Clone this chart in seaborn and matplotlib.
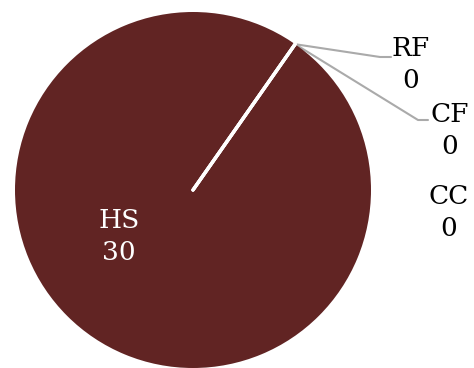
import numpy as np
import matplotlib
matplotlib.use('Agg')
import matplotlib.pyplot as plt
import seaborn as sns

# datos
categorias = ['HS', 'RF', 'CF', 'CC']
valores = [30, 0, 0, 0]
colores = ['#612423', '#7a2e2c', '#8a3a36', '#9a4640']

sns.set_theme(style='white')
plt.rcParams['font.family'] = ['DejaVu Serif', 'DejaVu Sans']

W, H = 474, 368
cx, cy, R = 193, 190, 178          # centro y radio en pixeles


def px(x, y):
    # pixel -> coordenadas de datos (radio = 1)
    return (x - cx) / R, (cy - y) / R


fig = plt.figure(figsize=(W / 100, H / 100), dpi=100)
ax = fig.add_axes([0, 0, 1, 1])

start = 55
wedges, _ = ax.pie(valores, colors=colores, startangle=start, counterclock=True,
                   wedgeprops=dict(edgecolor='white', linewidth=0))
# las porciones vacias dejan la linea blanca del borde
for w, v in zip(wedges, valores):
    if v == 0:
        w.set_linewidth(2.4)
        w.set_capstyle('round')
        w.set_joinstyle('round')
        w.set_zorder(3)

ax.set_xlim(-cx / R, (W - cx) / R)
ax.set_ylim(-(H - cy) / R, cy / R)
ax.set_aspect('auto')
ax.axis('off')

# etiquetas
borde = (np.cos(np.radians(start)), np.sin(np.radians(start)))
etiquetas = {
    'RF': dict(pos=(411, 65), codo=[(380, 57), (391, 57)]),
    'CF': dict(pos=(450, 130), codo=[(418, 120), (428, 120)]),
    'CC': dict(pos=(449, 212), codo=None),
}
for cat, val in zip(categorias, valores):
    if cat == 'HS':
        x, y = px(119, 236)
        ax.text(x, y, f'{cat}\n{val}', ha='center', va='center', color='white',
                fontsize=19, linespacing=1.35)
        continue
    e = etiquetas[cat]
    x, y = px(*e['pos'])
    ax.text(x, y, f'{cat}\n{val}', ha='center', va='center', color='black',
            fontsize=19, linespacing=1.35)
    if e['codo'] is not None:
        pts = [borde] + [px(*p) for p in e['codo']]
        ax.plot([p[0] for p in pts], [p[1] for p in pts], color='#aaaaaa', lw=1.5, zorder=0.5)

plt.savefig('out.png', dpi=100, facecolor='white')
